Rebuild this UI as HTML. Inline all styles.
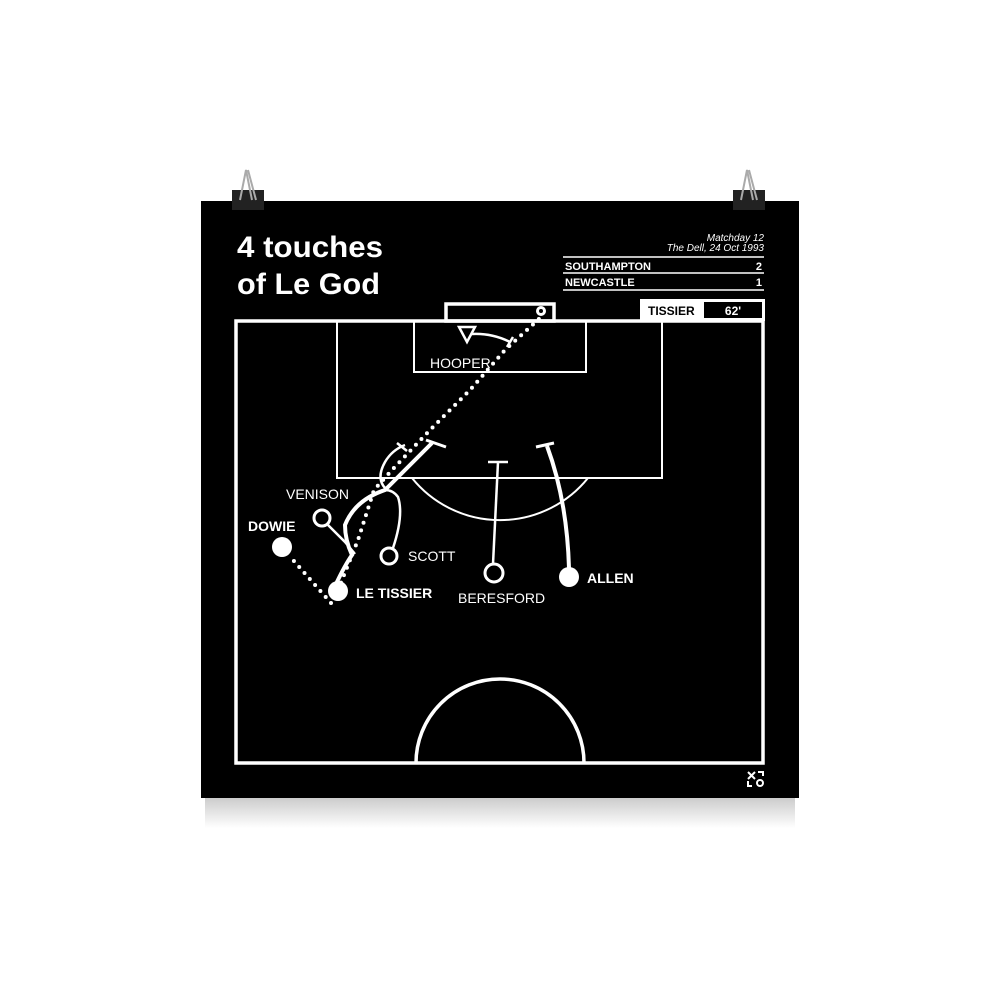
<!DOCTYPE html>
<html><head><style>
body{margin:0;width:1000px;height:1000px;background:#fff;overflow:hidden;font-family:"Liberation Sans",sans-serif}
</style></head><body>
<svg width="1000" height="1000" viewBox="0 0 1000 1000" xmlns="http://www.w3.org/2000/svg">
<defs><linearGradient id="sh" x1="0" y1="0" x2="0" y2="1"><stop offset="0" stop-color="#ccc"/><stop offset="1" stop-color="#fff"/></linearGradient></defs>
<rect x="205" y="798" width="590" height="30" fill="url(#sh)"/>
<rect x="201" y="201" width="598" height="597" fill="#000"/>
<g fill="#222"><rect x="232" y="190" width="32" height="20"/><rect x="733" y="190" width="32" height="20"/></g>
<g fill="none" stroke="#aaa" stroke-width="2"><path d="M240 200 L246 170 L252 200 M248 170 L256 200"/><path d="M741 200 L747 170 L753 200 M749 170 L757 200"/></g>
<g font-family="Liberation Sans,sans-serif" fill="#fff">
<text x="237" y="257" font-size="30" font-weight="bold" textLength="146" lengthAdjust="spacingAndGlyphs">4 touches</text>
<text x="237" y="294" font-size="30" font-weight="bold" textLength="143" lengthAdjust="spacingAndGlyphs">of Le God</text>
<text x="764" y="241" font-size="10" font-style="italic" text-anchor="end">Matchday 12</text>
<text x="764" y="251" font-size="10" font-style="italic" text-anchor="end">The Dell, 24 Oct 1993</text>
<text x="565" y="270" font-size="11" font-weight="bold">SOUTHAMPTON</text>
<text x="762" y="270" font-size="11" font-weight="bold" text-anchor="end">2</text>
<text x="565" y="286" font-size="11" font-weight="bold">NEWCASTLE</text>
<text x="762" y="286" font-size="11" font-weight="bold" text-anchor="end">1</text>
</g>
<g stroke="#fff" stroke-width="1.5"><line x1="563" y1="257" x2="764" y2="257"/><line x1="563" y1="273" x2="764" y2="273"/><line x1="563" y1="290" x2="764" y2="290"/></g>
<rect x="640" y="299" width="125" height="22" fill="#fff"/>
<rect x="704" y="302" width="58" height="16" fill="#000"/>
<text x="648" y="315" font-size="12" font-weight="bold" fill="#000">TISSIER</text>
<text x="733" y="315" font-size="12" font-weight="bold" fill="#fff" text-anchor="middle">62'</text>
<g fill="none" stroke="#fff" stroke-width="3.5">
<rect x="236" y="321" width="527" height="442"/>
<rect x="446" y="304" width="108" height="17"/>
</g>
<g fill="none" stroke="#fff" stroke-width="2">
<rect x="337" y="321" width="325" height="157"/>
<rect x="414" y="321" width="172" height="51"/>
<path d="M412 478 A113 113 0 0 0 588 478"/>
</g>
<path d="M416 763 A84 84 0 0 1 584 763" fill="none" stroke="#fff" stroke-width="3.5"/>
<circle cx="541" cy="311" r="5" fill="#fff"/><circle cx="541" cy="311" r="2" fill="#000"/>
<path d="M459 327 L475 327 L467 342 Z" fill="none" stroke="#fff" stroke-width="2.5"/>
<path d="M472 334 Q492 333 510 342" fill="none" stroke="#fff" stroke-width="2.5"/>
<line x1="507" y1="347" x2="513" y2="337" stroke="#fff" stroke-width="2.5"/>
<path d="M331 603 L293 560 M338 590 L358 540 L374 490 L392 470 L430 430 L470 390 L505 350 L540 318" fill="none" stroke="#fff" stroke-width="4" stroke-linecap="round" stroke-dasharray="0 8"/>
<path d="M336 584 Q345 565 352 555 Q345 540 345 525 Q355 500 385 490 L432 443" fill="none" stroke="#fff" stroke-width="4"/>
<line x1="426" y1="440" x2="446" y2="447" stroke="#fff" stroke-width="3"/>
<path d="M385 488 Q376 478 385 462 Q392 450 405 445" fill="none" stroke="#fff" stroke-width="2.5"/>
<line x1="397" y1="443" x2="407" y2="451" stroke="#fff" stroke-width="2.5"/>
<path d="M393 548 Q404 515 398 497 Q393 490 385 490" fill="none" stroke="#fff" stroke-width="2.5"/>
<path d="M328 525 L345 542 L355 554" fill="none" stroke="#fff" stroke-width="2.5"/>
<line x1="493" y1="564" x2="498" y2="462" stroke="#fff" stroke-width="2.5"/>
<line x1="488" y1="462" x2="508" y2="462" stroke="#fff" stroke-width="2.5"/>
<path d="M569 568 Q567 500 547 446" fill="none" stroke="#fff" stroke-width="4"/>
<line x1="536" y1="447" x2="554" y2="443" stroke="#fff" stroke-width="3"/>
<circle cx="282" cy="547" r="10" fill="#fff"/>
<circle cx="322" cy="518" r="8" fill="#000" stroke="#fff" stroke-width="3"/>
<circle cx="389" cy="556" r="8" fill="#000" stroke="#fff" stroke-width="3"/>
<circle cx="494" cy="573" r="9" fill="#000" stroke="#fff" stroke-width="3"/>
<circle cx="569" cy="577" r="10" fill="#fff"/>
<circle cx="338" cy="591" r="10" fill="#fff"/>
<g fill="#fff" font-size="14">
<text x="248" y="531" font-weight="bold">DOWIE</text>
<text x="286" y="499">VENISON</text>
<text x="408" y="561">SCOTT</text>
<text x="458" y="603">BERESFORD</text>
<text x="587" y="583" font-weight="bold">ALLEN</text>
<text x="356" y="598" font-weight="bold">LE TISSIER</text>
<text x="430" y="368">HOOPER</text>
</g>
<g fill="none" stroke="#fff" stroke-width="2"><path d="M748 772 L755 779 M755 772 L748 779 M758 772 L763 772 L763 776 M748 781 L748 786 L752 786"/><circle cx="760" cy="783" r="3"/></g>
</svg>
</body></html>
